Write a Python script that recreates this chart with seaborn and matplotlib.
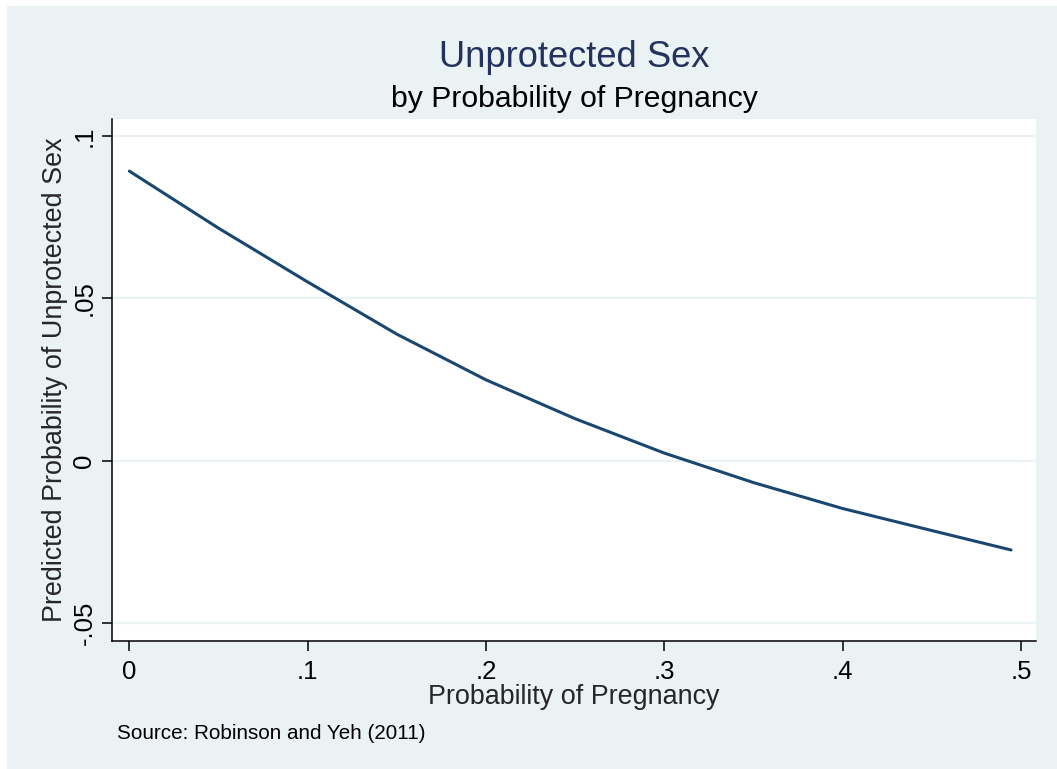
import numpy as np
import pandas as pd
import matplotlib.pyplot as plt
from matplotlib.patches import Rectangle
import seaborn as sns

# values
prob_pregnancy = [0.0, 0.05, 0.1, 0.15, 0.2, 0.25, 0.3, 0.35, 0.4, 0.45, 0.4945]
pred_unprotected = [0.0893, 0.0717, 0.0551, 0.0390, 0.0249, 0.0129, 0.0023, -0.0068, -0.0148, -0.0216, -0.0276]

x_ticks = [0, 0.1, 0.2, 0.3, 0.4, 0.5]
x_ticklabels = ['0', '.1', '.2', '.3', '.4', '.5']
y_ticks = [-0.05, 0, 0.05, 0.1]
y_ticklabels = ['-.05', '0', '.05', '.1']

df = pd.DataFrame({'prob': prob_pregnancy, 'pred': pred_unprotected})

bg = '#eaf2f3'
navy = '#1a476f'

sns.set_style('white')
plt.rcParams['font.family'] = ['Liberation Sans', 'DejaVu Sans']

fig = plt.figure(figsize=(10.57, 7.69), dpi=100)
fig.patch.set_facecolor(bg)
# thin white strips along the top and left edges
fig.patches.append(Rectangle((0, 1 - 6 / 769), 1, 6 / 769, transform=fig.transFigure,
                             facecolor='white', edgecolor='none', zorder=-10))
fig.patches.append(Rectangle((0, 0), 7 / 1057, 1, transform=fig.transFigure,
                             facecolor='white', edgecolor='none', zorder=-10))

ax = fig.add_axes([0.1057, 0.1664, 0.980 - 0.1057, 0.8453 - 0.1664])
ax.set_facecolor('white')

sns.lineplot(data=df, x='prob', y='pred', color=navy, linewidth=2.2, ax=ax)

ax.set_xlim(-0.0099, 0.5084)
ax.set_ylim(-0.0557, 0.1054)
ax.set_xticks(x_ticks)
ax.set_xticklabels(x_ticklabels)
ax.set_yticks(y_ticks)
ax.set_yticklabels(y_ticklabels, rotation=90, va='center')

for y in y_ticks:
    ax.axhline(y, color=bg, linewidth=1.6, zorder=0)

for s in ['top', 'right']:
    ax.spines[s].set_visible(False)
for s in ['left', 'bottom']:
    ax.spines[s].set_color('black')
    ax.spines[s].set_linewidth(1.1)

ax.tick_params(axis='both', direction='out', length=7, width=1.1, color='black',
               labelsize=18.5, labelcolor='black', bottom=True, left=True)
ax.tick_params(axis='x', pad=7)
ax.tick_params(axis='y', pad=4)

ax.set_xlabel('Probability of Pregnancy', fontsize=19.4, labelpad=0)
ax.set_ylabel('Predicted Probability of Unprotected Sex', fontsize=19.4, labelpad=3)

fig.text(0.5435, 1 - 67 / 769, 'Unprotected Sex', ha='center', va='baseline',
         fontsize=26.2, color='#23335f')
fig.text(0.5435, 1 - 107 / 769, 'by Probability of Pregnancy', ha='center', va='baseline',
         fontsize=21.7, color='black')
fig.text(117 / 1057, 1 - 739 / 769, 'Source: Robinson and Yeh (2011)', ha='left', va='baseline',
         fontsize=14.9, color='black')

fig.savefig('out.png', dpi=100, facecolor=fig.get_facecolor())
